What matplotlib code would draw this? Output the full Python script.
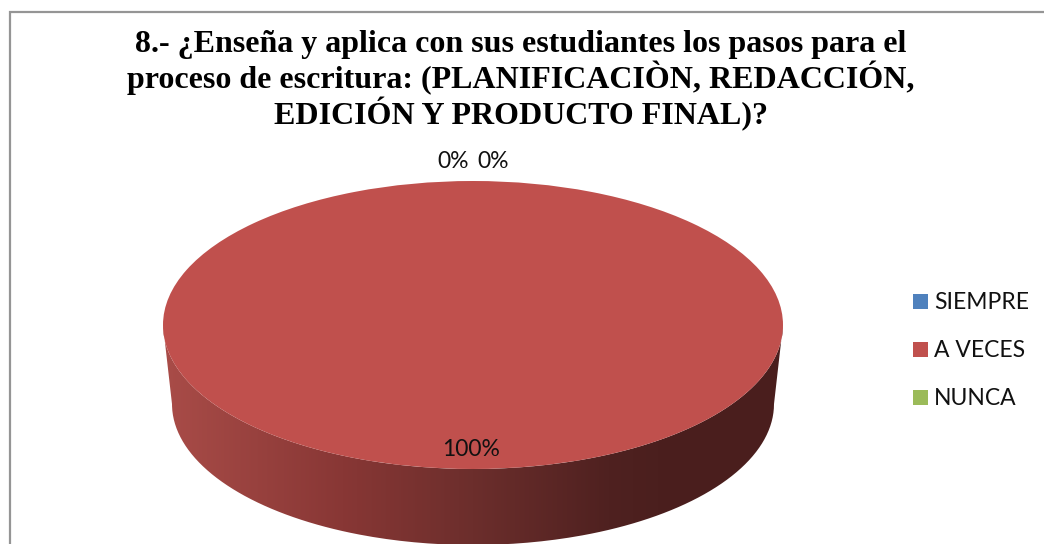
import numpy as np
import matplotlib
matplotlib.use('Agg')
import matplotlib.pyplot as plt
from matplotlib.colors import LinearSegmentedColormap
from matplotlib.patches import PathPatch, Rectangle
from matplotlib.path import Path

W, H = 1044, 544

title = ("8.- ¿Enseña y aplica con sus estudiantes los pasos para el\n"
         "proceso de escritura: (PLANIFICACIÒN, REDACCIÓN,\n"
         "EDICIÓN Y PRODUCTO FINAL)?")
categories = ['SIEMPRE', 'A VECES', 'NUNCA']
values = [0, 100, 0]
colors = ['#4F81BD', '#C0504D', '#9BBB59']

fig = plt.figure(figsize=(W / 100, H / 100), dpi=100, facecolor='white')

# pixel layer for frame and side wall
bg = fig.add_axes([0, 0, 1, 1])
bg.axis('off')

# frame runs off the right and bottom of the picture
bg.add_patch(Rectangle((9.5, 11.5), 1100, 600, fc='white', ec='#959595', lw=1.6))

cx, cy, rx, ry = 473, 325, 310, 144
bx, by, brx, bry = 473, 404, 301, 141

# side wall: lower half of the top ellipse joined to the narrower bottom ellipse
t = np.linspace(np.pi, 0, 200)
top_edge = np.c_[cx + rx * np.cos(t), cy + ry * np.sin(t)]
bot_edge = np.c_[bx + brx * np.cos(t[::-1]), by + bry * np.sin(t[::-1])]
wall = PathPatch(Path(np.r_[top_edge, bot_edge]), fc='none', ec='none')
bg.add_patch(wall)
side_cmap = LinearSegmentedColormap.from_list('side', [
    (0.0, '#A94C48'), (0.29, '#883735'), (0.5, '#6C2E2C'),
    (0.72, '#4F2120'), (0.8, '#4B1F1E'), (1.0, '#4A1E1D')])
img = bg.imshow(np.linspace(0, 1, 256)[None, :], cmap=side_cmap, aspect='auto',
                extent=(cx - rx, cx + rx, H, 0), zorder=2)
img.set_clip_path(wall)
bg.set_xlim(0, W)
bg.set_ylim(H, 0)

# top face
ax = fig.add_axes([(cx - rx) / W, 1 - (cy + ry) / H, 2 * rx / W, 2 * ry / H])
ax.pie(values, colors=colors, startangle=90, counterclock=False, radius=1)
ax.set_aspect('auto')
ax.set_xlim(-1, 1)
ax.set_ylim(-1, 1)
ax.patch.set_alpha(0)

over = fig.add_axes([0, 0, 1, 1], zorder=5)
over.set_xlim(0, W)
over.set_ylim(H, 0)
over.axis('off')

over.text(521, 80.5, title, ha='center', va='center', family='Liberation Serif',
          weight='bold', fontsize=23, linespacing=1.07, color='black')

# one label per slice, same order as values
label_x = [493, 471, 453]
label_y = [161.5, 449, 161.5]
for v, x, y in zip(values, label_x, label_y):
    over.text(x, y, f'{v}%', ha='center', va='center', family='Lato',
              fontsize=16.5, color='#111111')

leg_y = [301.5, 349.5, 397.5]
for name, c, y in zip(categories, colors, leg_y):
    over.add_patch(Rectangle((913, y - 7.5), 15, 15, fc=c, ec='none'))
    over.text(934, y + 1, name, ha='left', va='center', family='Lato',
              fontsize=16.5, color='#111111')

fig.savefig('out.png', dpi=100)
